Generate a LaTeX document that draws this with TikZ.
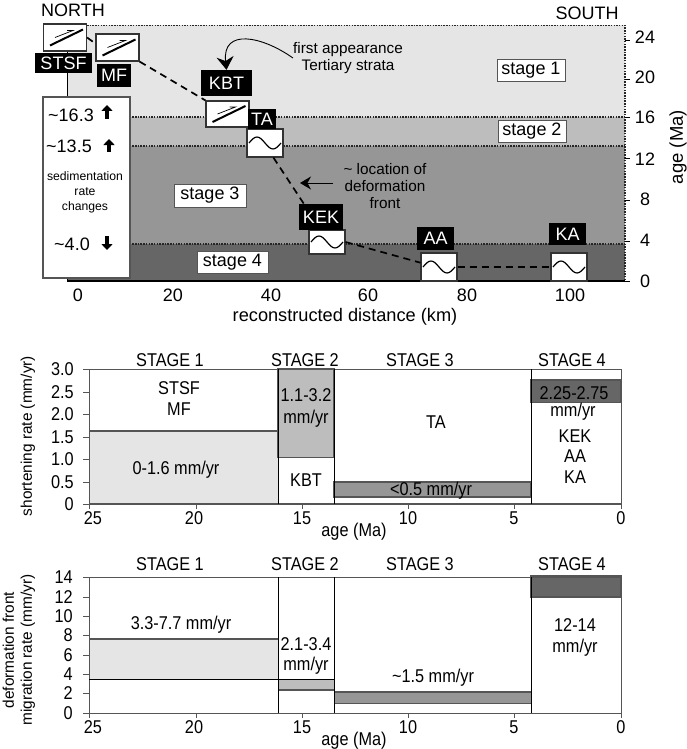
\documentclass[tikz,border=0pt]{standalone}
\usepackage{fontspec}
\setmainfont{Liberation Sans}
\newfontfamily\narrowf[FakeStretch=0.88]{Liberation Sans}
\usetikzlibrary{arrows.meta}
\definecolor{bandA}{HTML}{E5E5E5}
\definecolor{bandB}{HTML}{BDBDBD}
\definecolor{bandC}{HTML}{969696}
\definecolor{bandD}{HTML}{666666}
\definecolor{edgeg}{HTML}{555555}
\newcommand{\fs}[1]{\fontsize{#1}{#1}\selectfont}
\newcommand{\nfs}[2]{\narrowf\fontsize{#1}{#2}\selectfont}
\newcommand{\faultmark}[1]{%
  \draw[line width=2pt] ([shift={(-15,8)}]#1.center) -- ([shift={(18,-8)}]#1.center);
  \draw[line width=.7pt] ([shift={(-10,0)}]#1.center) -- ([shift={(8,-7)}]#1.center) -- ([shift={(2,-7)}]#1.center);}
\newcommand{\sinemark}[1]{%
  \draw[line width=1.2pt] ([shift={(-16,0)}]#1.center) sin ++(8,-6) cos ++(8,6) sin ++(8,6) cos ++(8,-6);}
\tikzset{
  blk/.style={fill=black,text=white,inner sep=0pt,font=\fs{18}},
  symbox/.style={draw=black!80,fill=white,line width=1.2pt,inner sep=0pt},
  stagebox/.style={draw=edgeg,fill=white,line width=.9pt,inner sep=0pt,font=\fs{18}},
  lab/.style={inner sep=0pt,font=\fs{18}},
  sm/.style={inner sep=0pt,font=\nfs{18.5}{18.5}},
  front/.style={line width=1.7pt,dash pattern=on 7pt off 5pt},
  dots/.style={line width=1.3pt,black!85,dash pattern=on 1.5pt off 1.2pt},
  frameg/.style={draw=edgeg,line width=.9pt},
  vline/.style={draw=black,line width=.8pt},
  bup/.style={line width=3.2pt,-{Triangle[length=6pt,width=11pt]}},
}
\begin{document}
\begin{tikzpicture}[x=1pt,y=-1pt]
\useasboundingbox (0,0) rectangle (687,749);
% ---------- top chart ----------
\fill[bandA] (67.5,25.5) rectangle (625,117);
\fill[bandB] (67.5,117) rectangle (625,146);
\fill[bandC] (67.5,146) rectangle (625,244);
\fill[bandD] (67.5,244) rectangle (625,281);
\draw[dots] (87,25.5) -- (625,25.5) -- (625,281);
\draw[dots] (67.5,117) -- (625,117);
\draw[dots] (67.5,146) -- (625,146);
\draw[dots] (67.5,244) -- (625,244);
\draw[black,line width=1.5pt] (67.5,50) -- (67.5,281) -- (625,281);
\foreach \yy in {40,79,117,158,200,241,281} \draw[black,line width=.9pt] (625,\yy) -- (630,\yy);
\foreach \t/\yy in {24/37,20/77,16/117,12/159,8/199,4/240,0/281}
  \node[lab] (ra\t) at (645,\yy) {\t};
\foreach \t/\xx in {0/78,20/173,40/271,60/368,80/467,100/570}
  \node[lab] (da\t) at (\xx,295) {\t};
\node[lab,font=\fs{18.2}] (dist) at (345,317) {reconstructed distance (km)};
\node[lab,rotate=90,font=\fs{18.5}] (agetop) at (678,147) {age (Ma)};
\node[lab] (north) at (73,10) {NORTH};
\node[lab] (south) at (587,13) {SOUTH};
% stage boxes
\node[stagebox,minimum width=68pt,minimum height=22pt] (st1) at (531,70) {stage 1};
\node[stagebox,minimum width=68pt,minimum height=22pt] (st2) at (532,131) {stage 2};
\node[stagebox,minimum width=72pt,minimum height=23pt] (st3) at (210,195.5) {stage 3};
\node[stagebox,minimum width=71pt,minimum height=22pt] (st4) at (232.5,262) {stage 4};
% sedimentation box
\node[draw=edgeg,fill=white,line width=1.1pt,minimum width=87pt,minimum height=181pt,inner sep=0pt] (sed) at (86.5,187.5) {};
\node[lab] (s163) at (71,115) {\char`\~16.3};
\node[lab] (s135) at (69,146) {\char`\~13.5};
\node[lab] (s40) at (72,244) {\char`\~4.0};
\coordinate (ua) at (107,119); \coordinate (ub) at (107,105);
\coordinate (uc) at (109,152); \coordinate (ud) at (109,139);
\coordinate (ue) at (107,236); \coordinate (uf) at (107,250);
\draw[bup] (ua) -- (ub);
\draw[bup] (uc) -- (ud);
\draw[bup] (ue) -- (uf);
\node[inner sep=0pt,align=center,font=\fontsize{12.2}{15}\selectfont] (sedtxt) at (85,192) {sedimentation\\rate\\changes};
% texts
\node[inner sep=0pt,align=center,font=\fontsize{15.3}{17}\selectfont] (firsttxt) at (348,58) {first appearance\\Tertiary strata};
\node[inner sep=0pt,align=center,font=\fontsize{15.3}{17.3}\selectfont] (loctxt) at (385,186) {\char`\~{} location of\\deformation\\front};
% symbol boxes and labels
\node[symbox,minimum width=43pt,minimum height=27pt] (stsfbox) at (65,37.5) {};
\node[symbox,minimum width=43pt,minimum height=27pt] (mfbox) at (117.5,47.5) {};
\node[symbox,minimum width=43pt,minimum height=26pt] (kbtbox) at (227.5,114) {};
\node[symbox,minimum width=36pt,minimum height=28pt] (tabox) at (265,143) {};
\node[symbox,minimum width=36pt,minimum height=24pt] (kekbox) at (327,242) {};
\node[symbox,minimum width=36pt,minimum height=28pt] (aabox) at (439,267) {};
\node[symbox,minimum width=36pt,minimum height=28pt] (kabox) at (569,267) {};
\coordinate (kekentry) at (304,204);
\draw[front] (stsfbox.east) -- (mfbox.170);
\draw[front] (mfbox.south east) -- (kbtbox.north west);
\draw[front] (tabox.-60) -- (kekentry);
\draw[front] (kekbox.east) -- (aabox.167);
\draw[front] (aabox.east) -- (kabox.west);
\faultmark{stsfbox}
\faultmark{mfbox}
\faultmark{kbtbox}
\sinemark{tabox}
\sinemark{kekbox}
\sinemark{aabox}
\sinemark{kabox}
\node[blk,minimum width=57pt,minimum height=20pt] (stsflab) at (63.5,63) {STSF};
\node[blk,minimum width=34pt,minimum height=23pt] (mflab) at (114,75.5) {MF};
\node[blk,minimum width=51pt,minimum height=26pt] (kbtlab) at (226.5,83) {KBT};
\node[blk,minimum width=28pt,minimum height=20pt] (talab) at (262,119) {TA};
\node[blk,minimum width=44pt,minimum height=26pt] (keklab) at (321,217) {KEK};
\node[blk,minimum width=37pt,minimum height=23pt] (aalab) at (435.5,238.5) {AA};
\node[blk,minimum width=37pt,minimum height=22pt] (kalab) at (567.5,234) {KA};
% annotation arrows
\draw[line width=.9pt,-{Stealth[length=13pt,width=17pt]}] (firsttxt.west) .. controls (262,36) and (222,28) .. (kbtlab.north);
\coordinate (locstart) at (333,183);
\coordinate (loctip) at (300,183);
\draw[line width=.9pt,-{Stealth[length=11pt,width=13pt]}] (locstart) -- (loctip);
% ---------- middle chart ----------
\foreach \t/\xx [count=\k] in {STAGE 1/170,STAGE 2/305,STAGE 3/420,STAGE 4/572}
  \node[sm] (mst\k) at (\xx,360) {\t};
\fill[bandA] (89,431) rectangle (278,504);
\fill[bandB] (278,369) rectangle (334,457.5);
\fill[bandC] (334,482) rectangle (531,497);
\fill[bandD] (531,380) rectangle (621,402.5);
\draw[frameg] (89,504) -- (89,369) -- (621,369) -- (621,504);
\draw[edgeg,line width=1.2pt] (89,504) -- (621,504);
\draw[frameg,line width=1.1pt] (89,431) -- (278,431);
\draw[frameg,line width=1.1pt] (278,369) rectangle (334,457.5);
\draw[frameg,line width=1.1pt] (334,482) rectangle (531,497);
\draw[frameg,line width=1.1pt] (531,380) rectangle (621,402.5);
\foreach \xx in {278,334,531} \draw[vline] (\xx,369) -- (\xx,504);
\foreach \yy/\t [count=\k] in {369/3.0,392/2.5,414/2.0,437/1.5,459/1.0,482/0.5,504/0} {
  \draw[edgeg,line width=.8pt] (83,\yy) -- (89,\yy);
  \node[sm,anchor=east] (my\k) at (74,\yy) {\t};
}
\foreach \xx/\lx/\t in {89/93/25,196/194/20,302/302/15,408/408/10,514/514/5,621/621/0} {
  \draw[edgeg,line width=.8pt] (\xx,504) -- (\xx,509);
  \node[sm] (mx\t) at (\lx,518) {\t};
}
\node[sm] (mage) at (354,532) {age (Ma)};
\node[inner sep=0pt,rotate=90,font=\fs{15.4}] (mylab) at (28,436) {shortening rate (mm/yr)};
\node[inner sep=0pt,align=center,font=\nfs{18.5}{21}] (m1) at (179,398.5) {STSF\\MF};
\node[sm] (m2) at (176,470) {0-1.6 mm/yr};
\node[inner sep=0pt,align=center,font=\nfs{18.5}{22}] (m3) at (306,408) {1.1-3.2\\mm/yr};
\node[sm] (m4) at (306,480) {KBT};
\node[sm] (m5) at (436,422) {TA};
\node[sm] (m6) at (431,491) {<0.5 mm/yr};
\node[sm] (m7) at (574,393) {2.25-2.75};
\node[sm] (m8) at (573,412) {mm/yr};
\node[inner sep=0pt,align=center,font=\nfs{18.5}{20.5}] (m9) at (575,456.5) {KEK\\AA\\KA};
% ---------- bottom chart ----------
\foreach \t/\xx [count=\k] in {STAGE 1/170,STAGE 2/305,STAGE 3/420,STAGE 4/572}
  \node[sm] (bst\k) at (\xx,564) {\t};
\fill[bandA] (89,639) rectangle (278,679);
\fill[bandB] (278,679) rectangle (334,690);
\fill[bandC] (334,692) rectangle (531,703);
\fill[bandD] (531,576) rectangle (621,597);
\draw[frameg] (89,713) -- (89,577) -- (621,577) -- (621,713) -- cycle;
\draw[edgeg,line width=1.6pt] (89,639) -- (278,639);
\draw[black,line width=.9pt] (89,679) -- (334,679);
\draw[edgeg,line width=1.6pt] (278,690) -- (334,690);
\draw[edgeg,line width=1.3pt] (334,692) -- (531,692);
\draw[edgeg,line width=.9pt] (334,703) -- (531,703);
\draw[edgeg,line width=1.2pt] (531,576) rectangle (621,597);
\foreach \xx in {278,334,531} \draw[vline] (\xx,577) -- (\xx,713);
\foreach \yy/\t in {577/14,597/12,616/10,635/8,655/6,674/4,693/2,713/0} {
  \draw[edgeg,line width=.8pt] (83,\yy) -- (89,\yy);
  \node[sm,anchor=east] (by\t) at (73,\yy) {\t};
}
\foreach \xx/\lx/\t in {89/93/25,196/194/20,302/302/15,408/408/10,514/514/5,621/621/0} {
  \draw[edgeg,line width=.8pt] (\xx,713) -- (\xx,718);
  \node[sm] (bx\t) at (\lx,727) {\t};
}
\node[sm] (bage) at (354,741) {age (Ma)};
\node[inner sep=0pt,rotate=90,align=center,font=\fontsize{15.4}{18}\selectfont] (bylab) at (19,650) {deformation front\\migration rate (mm/yr)};
\node[sm] (b1) at (181,625) {3.3-7.7 mm/yr};
\node[inner sep=0pt,align=center,font=\nfs{18.5}{20}] (b2) at (306,656) {2.1-3.4\\mm/yr};
\node[sm] (b3) at (433,678) {\char`\~1.5 mm/yr};
\node[inner sep=0pt,align=center,font=\nfs{18.5}{21}] (b4) at (575,637.5) {12-14\\mm/yr};
\end{tikzpicture}
\end{document}
